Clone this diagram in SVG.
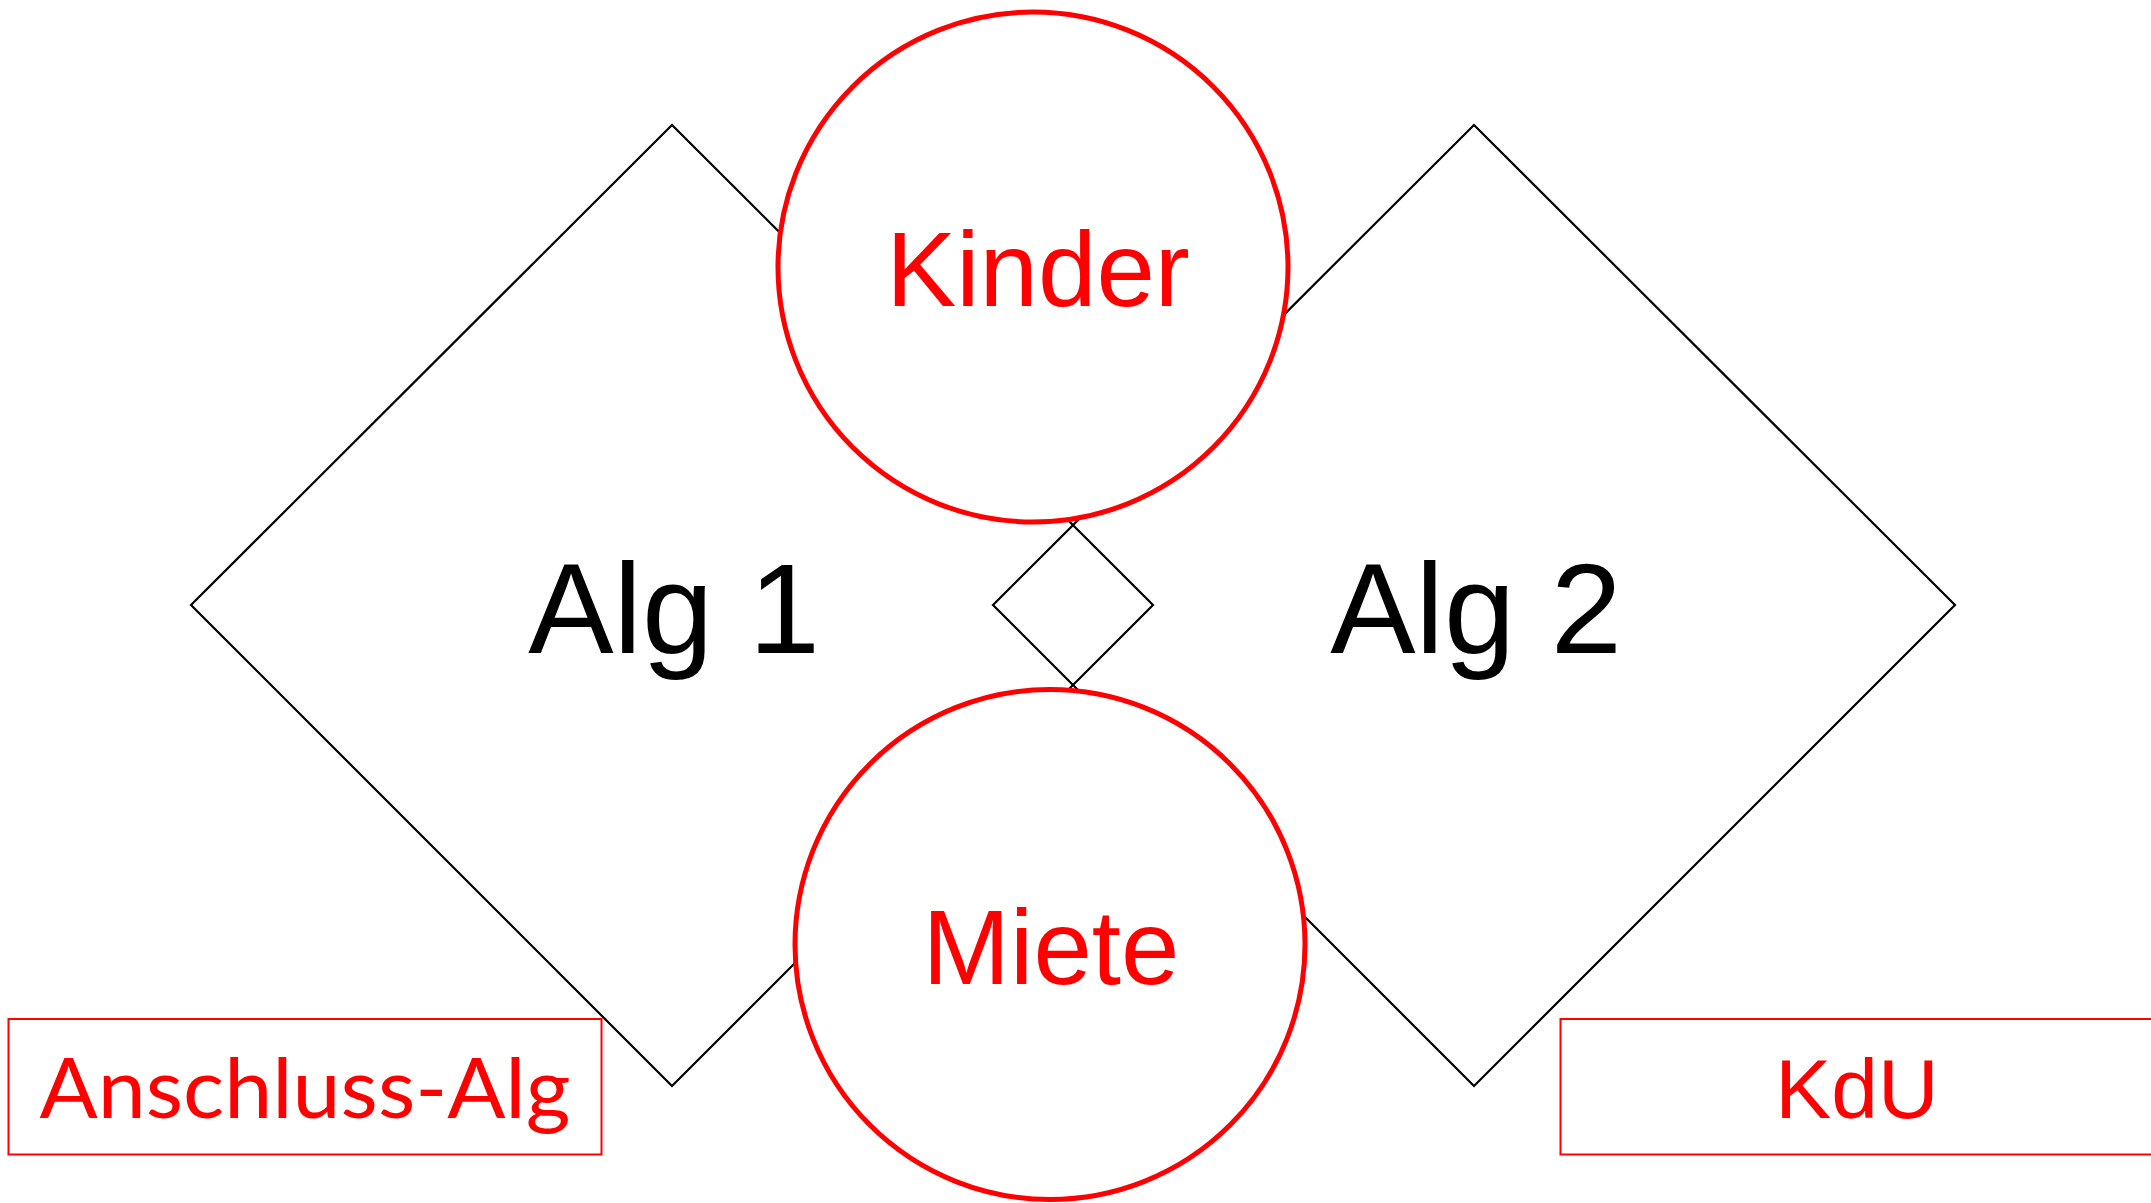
<svg xmlns="http://www.w3.org/2000/svg" width="2151" height="1203" viewBox="0 0 2151 1203">
<style>
.dia{fill:none;stroke:#000;stroke-width:2.2}
.circ{fill:#fff;stroke:#ff0000;stroke-width:5}
.box{fill:#fff;stroke:#ff0000;stroke-width:2}
.blk{font-family:"Liberation Sans",Arial,sans-serif;fill:#000;text-anchor:middle}
.red{font-family:"Liberation Sans",Arial,sans-serif;fill:#ff0000;text-anchor:middle}
.cal{font-family:Lato,"Open Sans",sans-serif;fill:#ff0000;text-anchor:middle}
</style>
<rect width="2151" height="1203" fill="#fff"/>
<g id="connectors"></g>
<g id="alg1">
<polygon class="dia" points="672,125 1153,605 672,1086 191,605"/>
<text class="blk" x="674" y="653" font-size="128">Alg 1</text>
</g>
<g id="alg2">
<polygon class="dia" points="1474,125 1955,605 1474,1086 993,605"/>
<text class="blk" x="1476" y="653" font-size="128">Alg 2</text>
</g>
<g id="kinder">
<circle class="circ" cx="1033" cy="267" r="255"/>
<text class="red" x="1038" y="306" font-size="105">Kinder</text>
</g>
<g id="miete">
<circle class="circ" cx="1050" cy="944.5" r="255"/>
<text class="red" x="1051" y="984" font-size="105">Miete</text>
</g>
<g id="anschluss">
<rect class="box" x="8.5" y="1019" width="593" height="135.5"/>
<text class="cal" x="305" y="1118" font-size="84" textLength="531" lengthAdjust="spacingAndGlyphs">Anschluss-Alg</text>
</g>
<g id="kdu">
<rect class="box" x="1560.5" y="1019" width="593" height="135.5"/>
<text class="red" x="1857" y="1118" font-size="84">KdU</text>
</g>
</svg>
